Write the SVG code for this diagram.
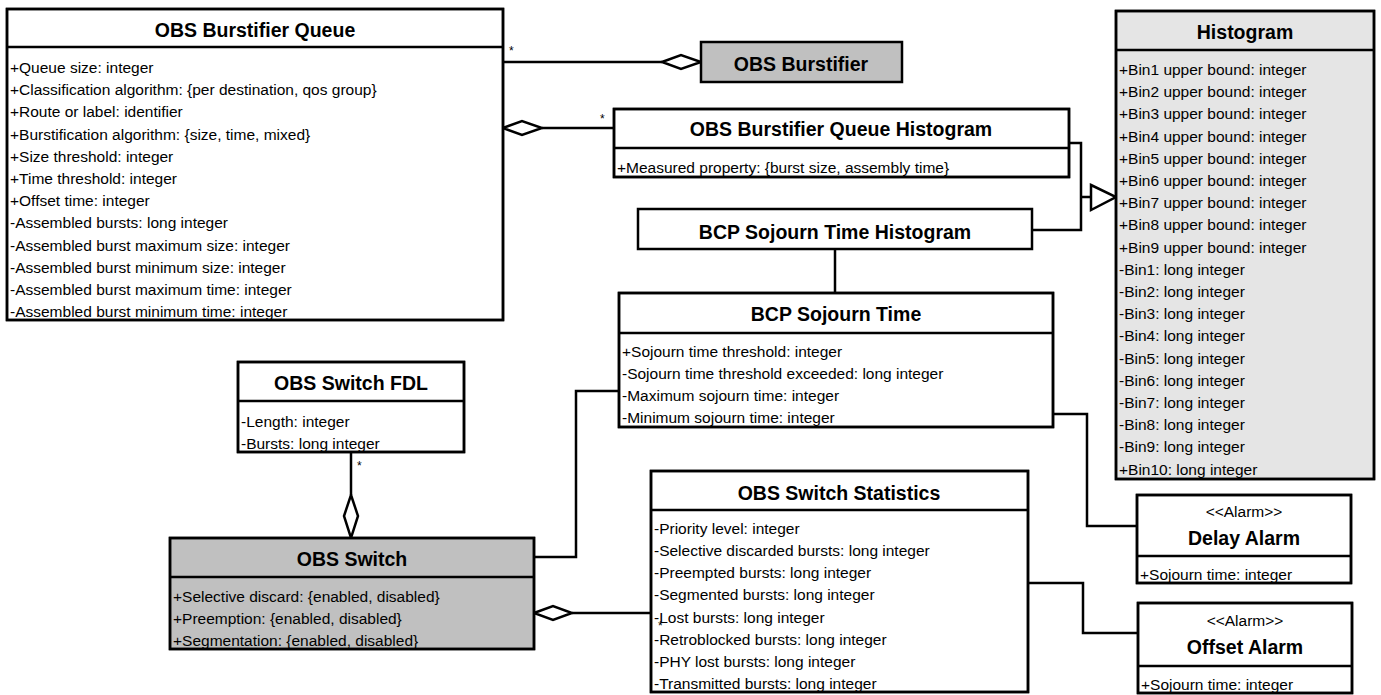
<svg xmlns="http://www.w3.org/2000/svg" width="1381" height="695" viewBox="0 0 1381 695">
<style>
.box{fill:#fff;stroke:#000;stroke-width:2.5}
.grey{fill:#c0c0c0}
.light{fill:#e5e5e5}
.sep{stroke:#000;stroke-width:2.5}
.t{font-family:"Liberation Sans",Arial,sans-serif;font-weight:bold;font-size:19.5px;text-anchor:middle;fill:#000}
.s{font-family:"Liberation Sans",Arial,sans-serif;font-size:15.5px;text-anchor:middle;fill:#000}
.a{font-family:"Liberation Sans",Arial,sans-serif;font-size:15.5px;fill:#000}
.m{font-family:"Liberation Sans",Arial,sans-serif;font-size:12px;fill:#000}
.c{fill:none;stroke:#000;stroke-width:2.5}
.dia{fill:#fff;stroke:#000;stroke-width:2.5}
.o{fill:none;stroke:#000;stroke-width:2.5}
</style>
<rect width="1381" height="695" fill="#fff"/>

<g id="connectors">
<path class="c" d="M503,62 H662"/>
<polygon class="dia" points="662,62 681,55 701,62 681,69"/>
<text class="m" x="509" y="55">*</text>
<path class="c" d="M542,128 H614"/>
<polygon class="dia" points="503,128 522,121 542,128 522,135"/>
<text class="m" x="600" y="123">*</text>
<path class="c" d="M1069,143 H1081 V230 H1032 M1081,197 H1091"/>
<polygon class="dia" points="1091,185 1116,197 1091,210"/>
<path class="c" d="M835,249 V293"/>
<path class="c" d="M619,391 H576 V557 H534"/>
<path class="c" d="M1053,414 H1087 V526 H1137"/>
<path class="c" d="M1028,583 H1083 V633 H1138"/>
<path class="c" d="M572,613 H651"/>
<polygon class="dia" points="534,613 553,606 572,613 553,620"/>
<path class="c" d="M351,452 V495"/>
<polygon class="dia" points="351,495 358,516 351,538 344,516"/>
<text class="m" x="357" y="470">*</text>
</g>

<g id="obs-burstifier-queue">
<rect class="box" x="7" y="9" width="496" height="311"/>
<line class="sep" x1="7" y1="47" x2="503" y2="47"/>
<text class="t" x="255" y="37">OBS Burstifier Queue</text>
<text class="a" x="10" y="73">+Queue size: integer</text>
<text class="a" x="10" y="95.2">+Classification algorithm: {per destination, qos group}</text>
<text class="a" x="10" y="117.4">+Route or label: identifier</text>
<text class="a" x="10" y="139.6">+Burstification algorithm: {size, time, mixed}</text>
<text class="a" x="10" y="161.8">+Size threshold: integer</text>
<text class="a" x="10" y="184">+Time threshold: integer</text>
<text class="a" x="10" y="206.2">+Offset time: integer</text>
<text class="a" x="10" y="228.4">-Assembled bursts: long integer</text>
<text class="a" x="10" y="250.6">-Assembled burst maximum size: integer</text>
<text class="a" x="10" y="272.8">-Assembled burst minimum size: integer</text>
<text class="a" x="10" y="295">-Assembled burst maximum time: integer</text>
<text class="a" x="10" y="317.2">-Assembled burst minimum time: integer</text>
<rect class="o" x="7" y="9" width="496" height="311"/>
</g>

<g id="obs-burstifier">
<rect class="box grey" x="701" y="42" width="201" height="40"/>
<text class="t" x="801" y="71">OBS Burstifier</text>
</g>

<g id="obs-burstifier-queue-histogram">
<rect class="box" x="614" y="109" width="455" height="68"/>
<line class="sep" x1="614" y1="148" x2="1069" y2="148"/>
<text class="t" x="841" y="136">OBS Burstifier Queue Histogram</text>
<text class="a" x="617" y="173">+Measured property: {burst size, assembly time}</text>
<rect class="o" x="614" y="109" width="455" height="68"/>
</g>

<g id="histogram">
<rect class="box light" x="1116" y="11" width="258" height="468"/>
<line class="sep" x1="1116" y1="50" x2="1374" y2="50"/>
<text class="t" x="1245" y="39">Histogram</text>
<text class="a" x="1119" y="75">+Bin1 upper bound: integer</text>
<text class="a" x="1119" y="97.2">+Bin2 upper bound: integer</text>
<text class="a" x="1119" y="119.4">+Bin3 upper bound: integer</text>
<text class="a" x="1119" y="141.6">+Bin4 upper bound: integer</text>
<text class="a" x="1119" y="163.8">+Bin5 upper bound: integer</text>
<text class="a" x="1119" y="186">+Bin6 upper bound: integer</text>
<text class="a" x="1119" y="208.2">+Bin7 upper bound: integer</text>
<text class="a" x="1119" y="230.4">+Bin8 upper bound: integer</text>
<text class="a" x="1119" y="252.6">+Bin9 upper bound: integer</text>
<text class="a" x="1119" y="274.8">-Bin1: long integer</text>
<text class="a" x="1119" y="297">-Bin2: long integer</text>
<text class="a" x="1119" y="319.2">-Bin3: long integer</text>
<text class="a" x="1119" y="341.4">-Bin4: long integer</text>
<text class="a" x="1119" y="363.6">-Bin5: long integer</text>
<text class="a" x="1119" y="385.8">-Bin6: long integer</text>
<text class="a" x="1119" y="408">-Bin7: long integer</text>
<text class="a" x="1119" y="430.2">-Bin8: long integer</text>
<text class="a" x="1119" y="452.4">-Bin9: long integer</text>
<text class="a" x="1119" y="474.6">+Bin10: long integer</text>
<rect class="o" x="1116" y="11" width="258" height="468"/>
</g>

<g id="bcp-sojourn-time-histogram">
<rect class="box" x="638" y="209" width="394" height="40"/>
<text class="t" x="835" y="239">BCP Sojourn Time Histogram</text>
</g>

<g id="bcp-sojourn-time">
<rect class="box" x="619" y="293" width="434" height="134"/>
<line class="sep" x1="619" y1="333" x2="1053" y2="333"/>
<text class="t" x="836" y="321">BCP Sojourn Time</text>
<text class="a" x="622" y="357">+Sojourn time threshold: integer</text>
<text class="a" x="622" y="379">-Sojourn time threshold exceeded: long integer</text>
<text class="a" x="622" y="401">-Maximum sojourn time: integer</text>
<text class="a" x="622" y="423">-Minimum sojourn time: integer</text>
<rect class="o" x="619" y="293" width="434" height="134"/>
</g>

<g id="obs-switch-fdl">
<rect class="box" x="238" y="362" width="226" height="90"/>
<line class="sep" x1="238" y1="401" x2="464" y2="401"/>
<text class="t" x="351" y="390">OBS Switch FDL</text>
<text class="a" x="241" y="427">-Length: integer</text>
<text class="a" x="241" y="449">-Bursts: long integer</text>
<rect class="o" x="238" y="362" width="226" height="90"/>
</g>

<g id="obs-switch">
<rect class="box grey" x="170" y="538" width="364" height="111"/>
<line class="sep" x1="170" y1="577" x2="534" y2="577"/>
<text class="t" x="352" y="566">OBS Switch</text>
<text class="a" x="173" y="602">+Selective discard: {enabled, disabled}</text>
<text class="a" x="173" y="624">+Preemption: {enabled, disabled}</text>
<text class="a" x="173" y="646">+Segmentation: {enabled, disabled}</text>
<rect class="o" x="170" y="538" width="364" height="111"/>
</g>

<g id="obs-switch-statistics">
<rect class="box" x="651" y="471" width="377" height="221"/>
<line class="sep" x1="651" y1="510" x2="1028" y2="510"/>
<text class="t" x="839" y="500">OBS Switch Statistics</text>
<text class="a" x="654" y="534">-Priority level: integer</text>
<text class="a" x="654" y="556">-Selective discarded bursts: long integer</text>
<text class="a" x="654" y="578">-Preempted bursts: long integer</text>
<text class="a" x="654" y="600">-Segmented bursts: long integer</text>
<text class="a" x="654" y="622.5">-Lost bursts: long integer</text>
<text class="a" x="654" y="645">-Retroblocked bursts: long integer</text>
<text class="a" x="654" y="667">-PHY lost bursts: long integer</text>
<text class="a" x="654" y="689">-Transmitted bursts: long integer</text>
<rect class="o" x="651" y="471" width="377" height="221"/>
<text class="m" x="658" y="630">*</text>
</g>

<g id="delay-alarm">
<rect class="box" x="1137" y="495" width="214" height="88"/>
<line class="sep" x1="1137" y1="556" x2="1351" y2="556"/>
<text class="s" x="1244" y="517">&lt;&lt;Alarm&gt;&gt;</text>
<text class="t" x="1244" y="545">Delay Alarm</text>
<text class="a" x="1140" y="580">+Sojourn time: integer</text>
<rect class="o" x="1137" y="495" width="214" height="88"/>
</g>

<g id="offset-alarm">
<rect class="box" x="1138" y="603" width="214" height="90"/>
<line class="sep" x1="1138" y1="666" x2="1352" y2="666"/>
<text class="s" x="1245" y="626">&lt;&lt;Alarm&gt;&gt;</text>
<text class="t" x="1245" y="654">Offset Alarm</text>
<text class="a" x="1141" y="690">+Sojourn time: integer</text>
<rect class="o" x="1138" y="603" width="214" height="90"/>
</g>
</svg>
